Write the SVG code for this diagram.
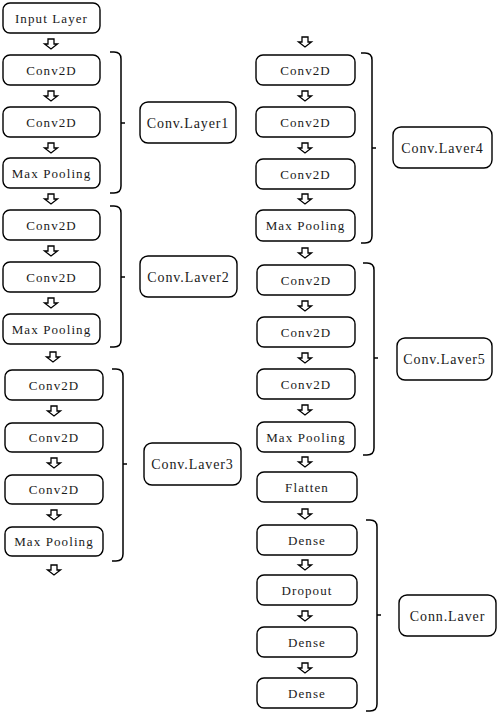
<svg xmlns="http://www.w3.org/2000/svg" xmlns:xlink="http://www.w3.org/1999/xlink" width="498" height="715" viewBox="0 0 498 715">
<style>
.box{fill:#fff;stroke:#000;stroke-width:1.4}
.t{font-family:"Liberation Serif","Times New Roman",serif;font-size:13px;letter-spacing:1.1px;fill:#1a1a1a;text-anchor:middle}
.lt{font-family:"Liberation Serif","Times New Roman",serif;font-size:14px;letter-spacing:0.9px;fill:#1a1a1a;text-anchor:middle}
.br{fill:none;stroke:#000;stroke-width:1.5}
.ar{fill:#fff;stroke:#000;stroke-width:1.3;stroke-linejoin:miter}
</style>
<defs>
<path id="arr" class="ar" d="M-3,0 H3 V5 H6.5 L0,10 L-6.5,5 H-3 Z"/>
</defs>
<rect width="498" height="715" fill="#fff"/>
<g id="connectors">
<use xlink:href="#arr" x="51" y="39"/>
<use xlink:href="#arr" x="51" y="91"/>
<use xlink:href="#arr" x="51" y="143"/>
<use xlink:href="#arr" x="51" y="194"/>
<use xlink:href="#arr" x="51" y="246"/>
<use xlink:href="#arr" x="51" y="298"/>
<use xlink:href="#arr" x="53" y="352"/>
<use xlink:href="#arr" x="54" y="406"/>
<use xlink:href="#arr" x="54" y="458"/>
<use xlink:href="#arr" x="54" y="510"/>
<use xlink:href="#arr" x="54" y="565"/>
<use xlink:href="#arr" x="305" y="37"/>
<use xlink:href="#arr" x="305" y="91"/>
<use xlink:href="#arr" x="305" y="143"/>
<use xlink:href="#arr" x="305" y="194"/>
<use xlink:href="#arr" x="305" y="248"/>
<use xlink:href="#arr" x="305" y="301"/>
<use xlink:href="#arr" x="305" y="353"/>
<use xlink:href="#arr" x="305" y="405"/>
<use xlink:href="#arr" x="305" y="457"/>
<use xlink:href="#arr" x="305" y="509"/>
<use xlink:href="#arr" x="305" y="560"/>
<use xlink:href="#arr" x="305" y="611"/>
<use xlink:href="#arr" x="305" y="663"/>
<path class="br" d="M110,52 H114 Q121,52 121,59 V186 Q121,193 114,193 H110 M121,123 H125"/>
<path class="br" d="M110,206 H114 Q121,206 121,213 V340 Q121,347 114,347 H110 M121,277 H125"/>
<path class="br" d="M112,369 H116 Q123,369 123,376 V554 Q123,561 116,561 H112 M123,464 H127"/>
<path class="br" d="M361,53 H365 Q372,53 372,60 V236 Q372,243 365,243 H361 M372,148 H376"/>
<path class="br" d="M363,263 H367 Q374,263 374,270 V448 Q374,455 367,455 H363 M374,358 H378"/>
<path class="br" d="M366,520 H370 Q377,520 377,527 V704 Q377,711 370,711 H366 M377,615 H381"/>
</g>
<g id="input"><rect class="box" x="3" y="3" width="97" height="30" rx="7"/><text class="t" x="51.5" y="22.5">Input Layer</text></g>
<g id="l1c1"><rect class="box" x="3" y="55" width="97" height="30" rx="7"/><text class="t" x="51.5" y="74.5">Conv2D</text></g>
<g id="l1c2"><rect class="box" x="3" y="107" width="97" height="30" rx="7"/><text class="t" x="51.5" y="126.5">Conv2D</text></g>
<g id="l1mp"><rect class="box" x="3" y="158" width="97" height="30" rx="7"/><text class="t" x="51.5" y="177.5">Max Pooling</text></g>
<g id="l2c1"><rect class="box" x="3" y="210" width="97" height="30" rx="7"/><text class="t" x="51.5" y="229.5">Conv2D</text></g>
<g id="l2c2"><rect class="box" x="3" y="262" width="97" height="30" rx="7"/><text class="t" x="51.5" y="281.5">Conv2D</text></g>
<g id="l2mp"><rect class="box" x="3" y="314" width="97" height="30" rx="7"/><text class="t" x="51.5" y="333.5">Max Pooling</text></g>
<g id="l3c1"><rect class="box" x="5" y="370" width="98" height="30" rx="7"/><text class="t" x="54" y="389.5">Conv2D</text></g>
<g id="l3c2"><rect class="box" x="5" y="423" width="98" height="29" rx="7"/><text class="t" x="54" y="442">Conv2D</text></g>
<g id="l3c3"><rect class="box" x="5" y="475" width="98" height="29" rx="7"/><text class="t" x="54" y="494">Conv2D</text></g>
<g id="l3mp"><rect class="box" x="5" y="527" width="98" height="29" rx="7"/><text class="t" x="54" y="546">Max Pooling</text></g>
<g id="lab1"><rect class="box" x="140" y="102" width="96" height="41" rx="8"/><text class="lt" x="188" y="127.5">Conv.Layer1</text></g>
<g id="lab2"><rect class="box" x="140" y="256" width="97" height="41" rx="8"/><text class="lt" x="188.5" y="281.5">Conv.Laver2</text></g>
<g id="lab3"><rect class="box" x="144" y="443" width="97" height="42" rx="8"/><text class="lt" x="192.5" y="469">Conv.Laver3</text></g>
<g id="l4c1"><rect class="box" x="256" y="55" width="99" height="30" rx="7"/><text class="t" x="305.5" y="74.5">Conv2D</text></g>
<g id="l4c2"><rect class="box" x="256" y="107" width="99" height="30" rx="7"/><text class="t" x="305.5" y="126.5">Conv2D</text></g>
<g id="l4c3"><rect class="box" x="256" y="159" width="99" height="30" rx="7"/><text class="t" x="305.5" y="178.5">Conv2D</text></g>
<g id="l4mp"><rect class="box" x="256" y="210" width="99" height="31" rx="7"/><text class="t" x="305.5" y="230">Max Pooling</text></g>
<g id="l5c1"><rect class="box" x="257" y="265" width="98" height="30" rx="7"/><text class="t" x="306" y="284.5">Conv2D</text></g>
<g id="l5c2"><rect class="box" x="257" y="317" width="98" height="30" rx="7"/><text class="t" x="306" y="336.5">Conv2D</text></g>
<g id="l5c3"><rect class="box" x="257" y="369" width="98" height="30" rx="7"/><text class="t" x="306" y="388.5">Conv2D</text></g>
<g id="l5mp"><rect class="box" x="257" y="422" width="98" height="30" rx="7"/><text class="t" x="306" y="441.5">Max Pooling</text></g>
<g id="flatten"><rect class="box" x="257" y="472" width="100" height="30" rx="7"/><text class="t" x="307" y="491.5">Flatten</text></g>
<g id="dense1"><rect class="box" x="257" y="525" width="100" height="30" rx="7"/><text class="t" x="307" y="544.5">Dense</text></g>
<g id="dropout"><rect class="box" x="257" y="575" width="100" height="30" rx="7"/><text class="t" x="307" y="594.5">Dropout</text></g>
<g id="dense2"><rect class="box" x="257" y="627" width="100" height="30" rx="7"/><text class="t" x="307" y="646.5">Dense</text></g>
<g id="dense3"><rect class="box" x="257" y="678" width="100" height="30" rx="7"/><text class="t" x="307" y="697.5">Dense</text></g>
<g id="lab4"><rect class="box" x="393" y="127" width="99" height="41" rx="8"/><text class="lt" x="442.5" y="152.5">Conv.Laver4</text></g>
<g id="lab5"><rect class="box" x="397" y="338" width="95" height="42" rx="8"/><text class="lt" x="444.5" y="364">Conv.Laver5</text></g>
<g id="lab6"><rect class="box" x="399" y="595" width="97" height="41" rx="8"/><text class="lt" x="447.5" y="620.5">Conn.Laver</text></g>
</svg>
